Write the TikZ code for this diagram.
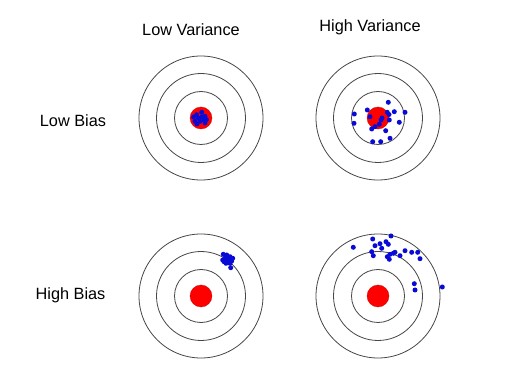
\documentclass[tikz,border=0pt]{standalone}
\usepackage{fontspec}
\setmainfont{Liberation Sans}
\definecolor{dotblue}{RGB}{10,10,215}
\definecolor{ringgray}{RGB}{70,70,70}
\tikzset{
  ring/.style={draw=ringgray, line width=0.8pt},
  bull/.style={fill=red, draw=red!80!black, line width=0.3pt},
  shot/.style={fill=dotblue},
  lbl/.style={anchor=base, inner sep=0pt, font=\fontsize{16.3}{19}\selectfont}
}
\begin{document}
\begin{tikzpicture}[x=1pt,y=-1pt]
\useasboundingbox[fill=white] (0,0) rectangle (512,374);
% labels
\node[lbl] (lv) at (191,35.7) {Low Variance};
\node[lbl] (hv) at (370,32) {High Variance};
\node[lbl] (lb) at (73,126.7) {Low Bias};
\node[lbl] (hb) at (70.5,299.3) {High Bias};
% targets
\foreach \cx/\cy in {201/118, 378/118, 201/296, 378/296}{
  \draw[ring] (\cx,\cy) circle (62);
  \draw[ring] (\cx,\cy) circle (44.5);
  \draw[ring] (\cx,\cy) circle (26.5);
  \draw[bull] (\cx,\cy) circle (11);
}
% low bias, low variance
\foreach \x/\y in {196.7/114.7, 201.7/112.3, 205/116.3, 200/121.3, 195/121.3, 205/123, 198.3/118, 202/117, 204/120, 197/124, 193.5/117, 206.5/119.5}{
  \fill[shot] (\x,\y) circle (2.5);
}
% low bias, high variance
\foreach \x/\y in {388.3/102.3, 367.3/110, 354.3/114, 354/123.3, 405/112.3, 394.3/111.7, 387.3/112.3, 370/116.7, 389.3/120, 399.3/122.3, 381/120, 379.3/124.3, 375/126.7, 371.7/129, 385.7/130.7, 390/138.3, 372.7/141.7, 380.7/141.7, 389/114.5, 382/118}{
  \fill[shot] (\x,\y) circle (2.5);
}
% high bias, low variance
\foreach \x/\y in {223.3/254.3, 226.7/255, 230/256.7, 232.7/258.3, 225/258.3, 228.3/260, 222.7/260, 226/263.3, 230/263.3, 230.7/267.7, 224/261.7, 231.7/261, 228/257}{
  \fill[shot] (\x,\y) circle (2.5);
}
% high bias, high variance
\foreach \x/\y in {372.7/239, 391/236, 353.3/247.3, 375/245.7, 380/243.7, 386/241.7, 388.3/244.3, 381.7/248.3, 371.7/251.7, 373.3/255.7, 387.3/256.7, 390/254.3, 393.3/253.3, 395/252.3, 389.3/259.3, 400/255.7, 405/250.7, 411.7/252.3, 417.7/252.3, 420/258.7, 414.3/283.7, 415/290, 442.3/287}{
  \fill[shot] (\x,\y) circle (2.5);
}
\end{tikzpicture}
\end{document}
